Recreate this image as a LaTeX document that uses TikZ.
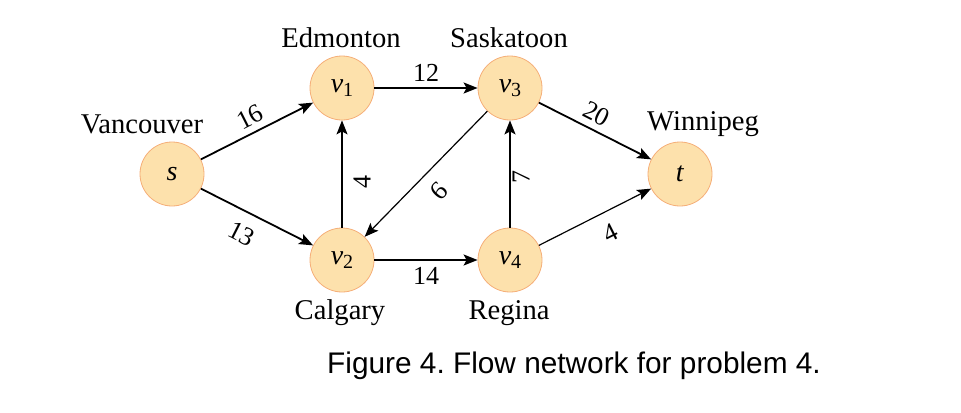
\documentclass[tikz,border=0pt]{standalone}
\usepackage{fontspec}
\setmainfont{Liberation Serif}
\newfontfamily\capfont{Liberation Sans}
\usetikzlibrary{arrows.meta}
\definecolor{cityfill}{HTML}{FDE1AC}
\definecolor{cityline}{HTML}{F5AE78}
\newcommand{\vsub}[1]{\textit{v}\raisebox{-0.3ex}{\fontsize{10}{10}\selectfont #1}}
\frenchspacing

\begin{document}
\begin{tikzpicture}[x=0.5pt, y=-0.5pt,
  main/.style = {draw=cityline, fill=cityfill, circle, minimum size=32pt, inner sep=0pt, font=\fontsize{14}{14}\selectfont},
  city/.style = {font=\fontsize{14.3}{14.3}\selectfont},
  capa/.style = {font=\fontsize{13}{13}\selectfont, inner sep=1pt},
  flow/.style = {-{Stealth[length=7pt, width=5.5pt, inset=1.5pt]}, line width=0.9pt},
  thinflow/.style = {-{Stealth[length=7pt, width=5.5pt, inset=1.5pt]}, line width=0.6pt}]
  \useasboundingbox (0,0) rectangle (961,412);
  \node[main] (s) at (172,174) {\textit{s}};
  \node[main] (1) at (342,88) {\vsub{1}};
  \node[main] (2) at (342,260) {\vsub{2}};
  \node[main] (3) at (510,88) {\vsub{3}};
  \node[main] (4) at (510,260) {\vsub{4}};
  \node[main] (t) at (680,174) {\textit{t}};
  % city names
  \node[city] (van) at (142,124) {Vancouver};
  \node[city] (edm) at (341,38) {Edmonton};
  \node[city] (sas) at (509,38) {Saskatoon};
  \node[city] (win) at (703,124) {Winnipeg};
  \node[city] (cal) at (340,313) {Calgary};
  \node[city] (reg) at (509,313) {Regina};
  % capacities
  \draw[flow] (s) -- (1) node[capa, pos=0.5, above=2pt, sloped] (c16) {16};
  \draw[flow] (s) -- (2) node[capa, pos=0.45, below=5pt, sloped] (c13) {13};
  \draw[flow] (1) -- (3) node[capa, pos=0.5, above=2pt] (c12) {12};
  \draw[flow] (2) -- (4) node[capa, pos=0.5, below=2pt] (c14) {14};
  \draw[thinflow] (2) -- (1);
  \draw[thinflow] (3) -- (2);
  \draw[flow] (4) -- (3);
  \draw[flow] (3) -- (t) node[capa, pos=0.45, above=2pt, sloped] (c20) {20};
  \draw[thinflow] (4) -- (t) node[capa, pos=0.55, below=5pt, sloped] (c4b) {4};
  \node[capa, rotate=90] (c4a) at (362,182) {4};
  \node[capa, rotate=-134] (c9) at (439,191) {9};
  \node[capa, rotate=90] (c7) at (521,177) {7};
  % caption
  \node[font=\capfont\fontsize{14.9}{14.9}\selectfont] (fig) at (574,366) {Figure 4. Flow network for problem 4.};
\end{tikzpicture}
\end{document}
